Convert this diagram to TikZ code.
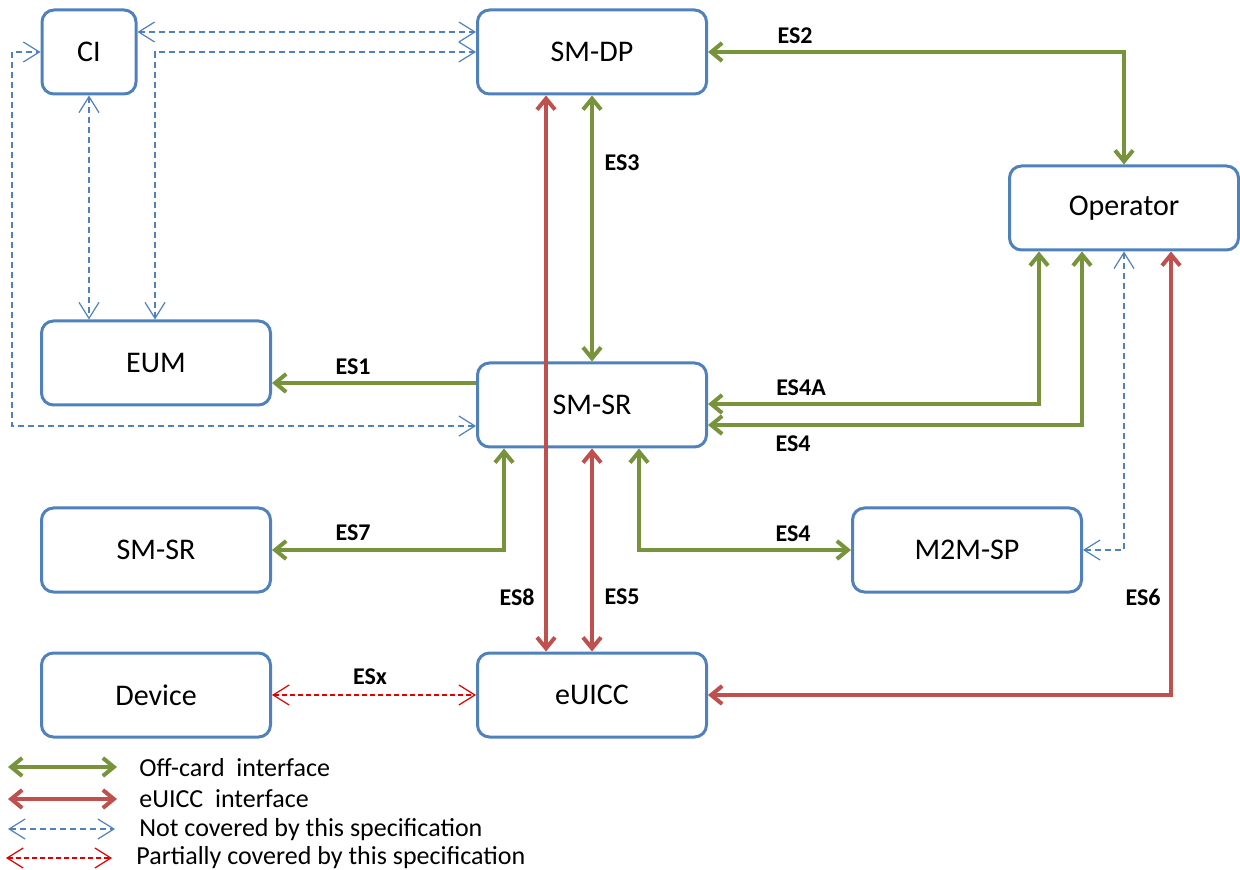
\documentclass[tikz,border=0pt]{standalone}
\usepackage{fontspec}
\setmainfont{Carlito}
\usetikzlibrary{arrows.meta}

\definecolor{boxblue}{HTML}{4F81BD}
\definecolor{offgreen}{HTML}{77933C}
\definecolor{cardred}{HTML}{C0504D}
\definecolor{partred}{HTML}{E00000}

\tikzset{
  entity/.style={draw=boxblue,line width=1.5pt,rounded corners=6pt,
    minimum width=114.5pt,minimum height=42pt,inner sep=0pt,
    font=\fontsize{15}{18}\selectfont},
  offcard/.style={draw=offgreen,line width=2pt,
    arrows={Straight Barb[length=5.5pt,width=9pt]-Straight Barb[length=5.5pt,width=9pt]}},
  cardif/.style={draw=cardred,line width=2pt,
    arrows={Straight Barb[length=5.5pt,width=9pt]-Straight Barb[length=5.5pt,width=9pt]}},
  notcov/.style={draw=boxblue,line width=0.6pt,dash pattern=on 3pt off 2pt,
    arrows={Straight Barb[length=8pt,width=10pt]-Straight Barb[length=8pt,width=10pt]}},
  partcov/.style={draw=partred,line width=0.6pt,dash pattern=on 2.5pt off 1.5pt,
    arrows={Straight Barb[length=8pt,width=10pt]-Straight Barb[length=8pt,width=10pt]}},
  eslabel/.style={font=\fontsize{12}{14}\selectfont\bfseries,inner sep=0pt},
  legtext/.style={anchor=west,inner sep=0pt,font=\fontsize{13}{15}\selectfont}
}

\begin{document}
\begin{tikzpicture}[x=0.5pt,y=-0.5pt]
    \useasboundingbox (0,0) rectangle (1240,870);

    % entities
    \node[entity,minimum width=47pt] (ci) at (89,52) {CI};
    \node[entity] (smdp)  at (592,52)  {SM-DP};
    \node[entity] (op)    at (1124,208) {Operator};
    \node[entity] (eum)   at (156,363) {EUM};
    \node[entity] (smsr)  at (592,405) {SM-SR};
    \node[entity] (smsrb) at (156,550) {SM-SR};
    \node[entity] (mtm)   at (967,550) {M2M-SP};
    \node[entity] (dev)   at (156,695) {Device};
    \node[entity] (euicc) at (592,695) {eUICC};

    % not covered (blue dashed)
    \coordinate (ciloop) at (12,52);
    \draw[notcov] (ci.east |- 0,32) -- (smdp.west |- 0,32);
    \draw[notcov] (eum.north -| 155,0) |- (smdp.west);
    \draw[notcov] (ci.south) -- (ci.south |- eum.north);
    \draw[notcov] (smsr.west |- 0,426) -| (ciloop) -- (ci.west);
    \draw[notcov] (op.south) |- (mtm.east);

    % off-card interfaces
    \draw[offcard,-{Straight Barb[length=5.5pt,width=9pt]}] (smsr.west |- 0,383) -- (eum.east |- 0,383);%ES1
    \draw[offcard] (smdp.east) -| (op.north);%ES2
    \draw[offcard] (smdp.south) -- (smsr.north);%ES3
    \draw[offcard] (smsr.east |- 0,404) -| (op.south -| 1039,0);%ES4A
    \draw[offcard] (smsr.east |- 0,425) -| (op.south -| 1082,0);%ES4
    \draw[offcard] (smsr.south -| 504,0) |- (smsrb.east);%ES7
    \draw[offcard] (smsr.south -| 639,0) |- (mtm.west);%ES4

    % eUICC interfaces
    \draw[cardif] (smdp.south -| 546,0) -- (euicc.north -| 546,0);%ES8
    \draw[cardif] (smsr.south) -- (euicc.north);%ES5
    \draw[cardif] (op.south -| 1171,0) |- (euicc.east);%ES6

    % partially covered
    \draw[partcov] (dev.east) -- (euicc.west);%ESx

    % labels
    \node[eslabel] (les2)  at (795,36)  {ES2};
    \node[eslabel] (les3)  at (622,163) {ES3};
    \node[eslabel] (les1)  at (353,367) {ES1};
    \node[eslabel] (les4a) at (801,388) {ES4A};
    \node[eslabel] (les4)  at (793,444) {ES4};
    \node[eslabel] (les7)  at (353,533) {ES7};
    \node[eslabel] (les4b) at (793,534) {ES4};
    \node[eslabel] (les8)  at (517,597) {ES8};
    \node[eslabel] (les5)  at (622,597) {ES5};
    \node[eslabel] (les6)  at (1143,597) {ES6};
    \node[eslabel] (lesx)  at (370,677) {ESx};

    % legend
    \coordinate (lg1a) at (8,767);   \coordinate (lg1b) at (117,767);
    \coordinate (lg2a) at (8,799);   \coordinate (lg2b) at (117,799);
    \coordinate (lg3a) at (8,829);   \coordinate (lg3b) at (115,829);
    \coordinate (lg4a) at (6,858);   \coordinate (lg4b) at (112,858);
    \draw[offcard] (lg1a) -- (lg1b);
    \draw[cardif]  (lg2a) -- (lg2b);
    \draw[notcov]  (lg3a) -- (lg3b);
    \draw[partcov] (lg4a) -- (lg4b);
    \node[legtext] (leg1) at (139,768) {Off-card\ \ interface};
    \node[legtext] (leg2) at (139,799) {eUICC\ \ interface};
    \node[legtext] (leg3) at (139,830) {Not covered by this specification};
    \node[legtext] (leg4) at (136,858) {Partially covered by this specification};

\end{tikzpicture}
\end{document}
